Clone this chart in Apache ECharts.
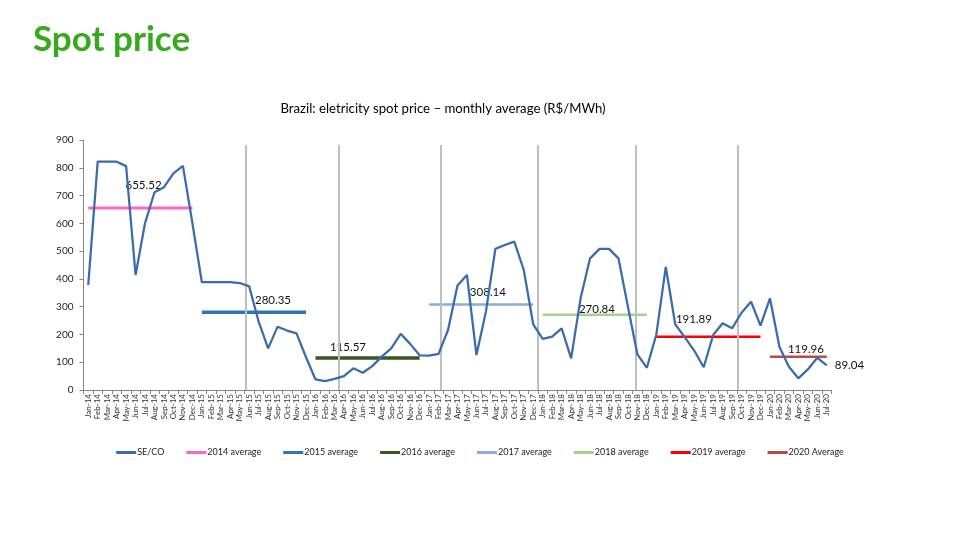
<!DOCTYPE html>
<html>
<head>
<meta charset="utf-8">
<script src="https://cdn.jsdelivr.net/npm/echarts@6/dist/echarts.min.js"></script>
<style>
  html, body { margin: 0; padding: 0; background: #fff; }
  #chart { width: 960px; height: 540px; }
</style>
</head>
<body>
<div id="chart"></div>
<script>
// ---- Data ----
const months = [
  'Jan-14','Feb-14','Mar-14','Apr-14','May-14','Jun-14','Jul-14','Aug-14','Sep-14','Oct-14','Nov-14','Dec-14',
  'Jan-15','Feb-15','Mar-15','Apr-15','May-15','Jun-15','Jul-15','Aug-15','Sep-15','Oct-15','Nov-15','Dec-15',
  'Jan-16','Feb-16','Mar-16','Apr-16','May-16','Jun-16','Jul-16','Aug-16','Sep-16','Oct-16','Nov-16','Dec-16',
  'Jan-17','Feb-17','Mar-17','Apr-17','May-17','Jun-17','Jul-17','Aug-17','Sep-17','Oct-17','Nov-17','Dec-17',
  'Jan-18','Feb-18','Mar-18','Apr-18','May-18','Jun-18','Jul-18','Aug-18','Sep-18','Oct-18','Nov-18','Dec-18',
  'Jan-19','Feb-19','Mar-19','Apr-19','May-19','Jun-19','Jul-19','Aug-19','Sep-19','Oct-19','Nov-19','Dec-19',
  'Jan-20','Feb-20','Mar-20','Apr-20','May-20','Jun-20','Jul-20'
];
const seCo = [
  378, 822, 822, 822, 806, 414, 601, 712, 730, 780, 807, 601,
  388, 388, 388, 388, 385, 373, 246, 150, 228, 214, 204, 118,
  38, 32, 40, 50, 78, 62, 86, 120, 150, 202, 166, 125,
  124, 130, 216, 376, 414, 126, 282, 508, 522, 534, 432, 236,
  184, 192, 222, 114, 330, 474, 508, 508, 474, 300, 128, 80,
  200, 443, 236, 190, 142, 82, 198, 240, 222, 278, 318, 232,
  330, 156, 84, 42, 74, 116, 89.04
];
const avgNames = ['2014 average','2015 average','2016 average','2017 average','2018 average','2019 average','2020 Average'];
const avgValues = [655.52, 280.35, 115.57, 308.14, 270.84, 191.89, 119.96];
// vertical separator lines, in category-band units along the x axis
const separators = [17.09, 26.98, 37.72, 47.96, 58.34, 69.08];
const separatorTop = 882;
const yTicks = [0, 100, 200, 300, 400, 500, 600, 700, 800, 900];

// ---- Styles ----
const avgColors = ['#FF66CC', '#2E75B6', '#375623', '#8FAADC', '#A9D18E', '#FF0000', '#B94A48'];
const avgWidths = [3, 3.5, 3.5, 2.5, 2.5, 2.5, 2.5];
// label anchor (index within the year) and pixel offset
const avgLabelAt = [6, 8, 3, 6, 6, 4, 4];
const avgLabelOffset = [[-1.5, -17], [-4.6, -6], [4.1, -5], [2, -6.4], [-2.6, 0.2], [-0.3, -11.7], [-1.9, -1.7]];
const FONT = 'Lato, "Open Sans", sans-serif';
const labelText = { fontSize: 11.5, color: '#111', fontFamily: FONT };

const avgSeries = avgValues.map((v, k) => {
  const data = months.map((m, i) => {
    if (Math.floor(i / 12) !== k) return null;
    if (i - 12 * k === avgLabelAt[k]) {
      return {
        value: v,
        label: Object.assign({
          show: true, position: 'top', distance: 0,
          offset: avgLabelOffset[k],
          formatter: v.toFixed(2)
        }, labelText)
      };
    }
    return v;
  });
  return {
    name: avgNames[k], type: 'line', data: data,
    symbol: 'circle', symbolSize: 0.001, showSymbol: true, showAllSymbol: true,
    z: 2, silent: true,
    label: { show: false },
    lineStyle: { color: avgColors[k], width: avgWidths[k] },
    itemStyle: { color: avgColors[k] },
    emphasis: { disabled: true }
  };
});

const seData = seCo.map((v, i) => i === seCo.length - 1 ? {
  value: v,
  label: Object.assign({ show: true, position: 'right', distance: 8, formatter: String(v) }, labelText)
} : v);

const chart = echarts.init(document.getElementById('chart'), null, { renderer: 'canvas' });
chart.setOption({
  animation: false,
  backgroundColor: '#fff',
  title: [
    { text: 'Spot price', left: 28, top: 17,
      textStyle: { fontFamily: FONT, fontWeight: 'bold', fontSize: 35, color: '#37A91C' } },
    { text: 'Brazil: eletricity spot price – monthly average (R$/MWh)', left: 438, top: 97, textAlign: 'center',
      textStyle: { fontFamily: FONT, fontWeight: 'normal', fontSize: 13.2, color: '#000' } }
  ],
  grid: { left: 83.5, right: 128.5, top: 140, bottom: 150, containLabel: false },
  legend: {
    top: 443, left: 'center', itemWidth: 20, itemHeight: 3, itemGap: 22,
    icon: 'rect',
    textStyle: { fontFamily: FONT, fontSize: 9, color: '#222', padding: [0, 0, 0, -4] },
    data: ['SE/CO'].concat(avgNames)
  },
  xAxis: [
    {
      type: 'category', data: months, boundaryGap: true,
      axisLine: { lineStyle: { color: '#868686', width: 1 } },
      axisTick: { show: true, alignWithLabel: false, length: 4, lineStyle: { color: '#868686' } },
      axisLabel: { rotate: 90, interval: 0, fontSize: 8, color: '#333', margin: 4, fontFamily: FONT },
      splitLine: { show: false }
    },
    {
      type: 'value', min: 0, max: months.length, show: false,
      splitLine: { show: false }
    }
  ],
  yAxis: {
    type: 'value', min: yTicks[0], max: yTicks[yTicks.length - 1], interval: 100,
    axisLine: { show: true, lineStyle: { color: '#868686', width: 1 } },
    axisTick: { show: true, length: 4, lineStyle: { color: '#868686' } },
    axisLabel: { fontSize: 10, color: '#222', margin: 10, fontFamily: FONT },
    splitLine: { show: false }
  },
  series: [
    {
      name: 'SE/CO', type: 'line', data: seData,
      symbol: 'circle', symbolSize: 0.001, showSymbol: true, showAllSymbol: true, z: 5,
      label: { show: false },
      lineStyle: { color: '#3A6BAE', width: 2.25 },
      itemStyle: { color: '#3A6BAE' },
      emphasis: { disabled: true }
    }
  ].concat(avgSeries).concat([
    {
      name: 'separators', type: 'line', xAxisIndex: 1, data: [], silent: true, z: 1,
      markLine: {
        silent: true, symbol: ['none', 'none'], animation: false,
        label: { show: false },
        lineStyle: { color: '#BFBFBF', width: 2, type: 'solid' },
        data: separators.map(s => [{ coord: [s, 0] }, { coord: [s, separatorTop] }])
      }
    }
  ])
});
</script>
</body>
</html>
